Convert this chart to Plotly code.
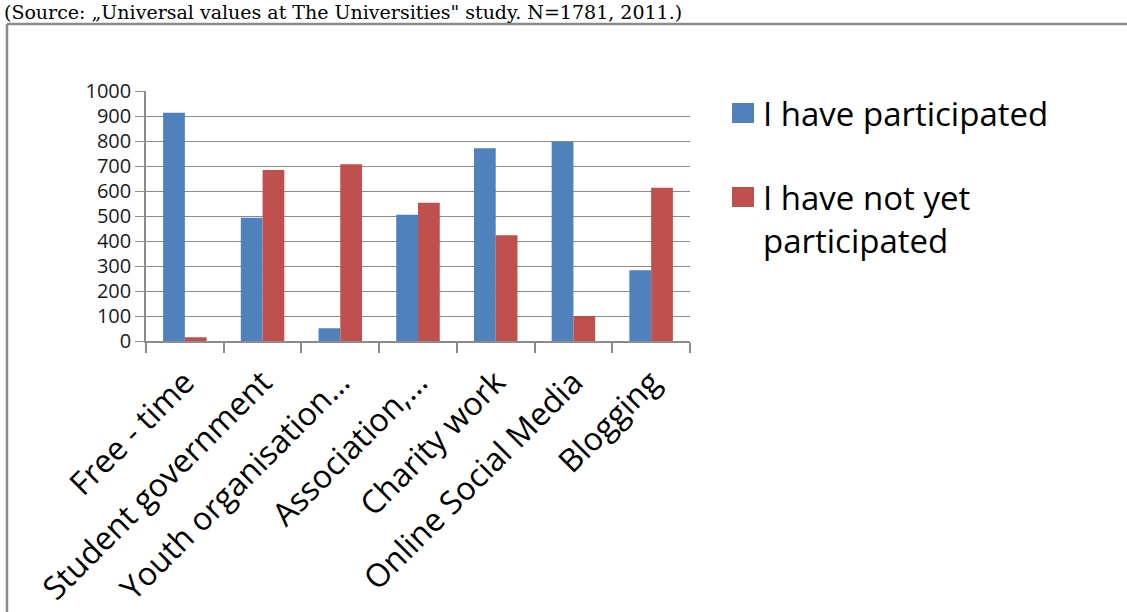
import plotly.graph_objects as go

categories = ["Free - time", "Student government", "Youth organisation…", "Association,…",
              "Charity work", "Online Social Media", "Blogging"]
participated = [913, 493, 51, 505, 771, 797, 283]
not_participated = [15, 684, 707, 553, 423, 100, 613]
series_names = ["I have participated", "I have not yet<br>participated"]
y_ticks = [0, 100, 200, 300, 400, 500, 600, 700, 800, 900, 1000]
source_text = "(Source: „Universal values at The Universities\" study. N=1781, 2011.)"

BLUE = "#4F81BD"
RED = "#C0504D"
GRID = "#8C8C8C"
FONT = "Open Sans"
colors = [BLUE, RED]

fig = go.Figure()
fig.add_trace(go.Bar(x=categories, y=participated, name=series_names[0],
                     marker=dict(color=BLUE, line=dict(width=0))))
fig.add_trace(go.Bar(x=categories, y=not_participated, name=series_names[1],
                     marker=dict(color=RED, line=dict(width=0))))

L, R, T, B = 146, 1127 - 690, 91, 612 - 341
W, H = 1127, 612
pw, ph = W - L - R, H - T - B


def px_x(px):
    return (px - L) / pw


def px_y(py):
    return (H - B - py) / ph


fig.update_layout(
    width=W, height=H,
    margin=dict(l=L, r=R, t=T, b=B, autoexpand=False),
    paper_bgcolor="white", plot_bgcolor="white",
    barmode="group", bargap=0.44, bargroupgap=0.0,
    font=dict(family=FONT, color="black"),
    showlegend=False,
    xaxis=dict(type="category", tickangle=-45, tickson="boundaries",
               ticks="outside", ticklen=10, tickcolor=GRID, tickwidth=1.5,
               showline=True, linecolor=GRID, linewidth=1.5, ticklabelstandoff=8,
               showgrid=False, tickfont=dict(family=FONT, size=32, color="black"),
               fixedrange=True),
    yaxis=dict(range=[0, 1000], tickvals=y_ticks, ticks="outside", ticklen=9,
               tickcolor=GRID, tickwidth=1, showline=True, linecolor=GRID, linewidth=1.5,
               showgrid=True, gridcolor=GRID, gridwidth=1, zeroline=False,
               tickfont=dict(family=FONT, size=20, color="#1a1a1a"), fixedrange=True),
)

# frame border of the embedded chart
fig.add_shape(type="line", xref="paper", yref="paper",
              x0=px_x(7), x1=px_x(1140), y0=px_y(24), y1=px_y(24),
              line=dict(color="#8A8A8A", width=2.5))
fig.add_shape(type="line", xref="paper", yref="paper",
              x0=px_x(7), x1=px_x(7), y0=px_y(24), y1=px_y(640),
              line=dict(color="#8A8A8A", width=2.5))

# source line at the top
fig.add_annotation(text=source_text, xref="paper", yref="paper",
                   x=px_x(2), y=px_y(-1), xanchor="left", yanchor="top",
                   showarrow=False, font=dict(family="DejaVu Serif", size=19, color="black"))

# legend drawn by hand (large square swatches, symbol aligned with first text line)
legend_rows = [113, 197]
for name, col, yc in zip(series_names, colors, legend_rows):
    fig.add_shape(type="rect", xref="paper", yref="paper",
                  x0=px_x(732), x1=px_x(754), y0=px_y(yc - 10), y1=px_y(yc + 10),
                  fillcolor=col, line=dict(width=0))
    fig.add_annotation(text=name, xref="paper", yref="paper",
                       x=px_x(761), y=px_y(yc - 24), xanchor="left", yanchor="top",
                       align="left", showarrow=False,
                       font=dict(family=FONT, size=33, color="black"))

fig.write_html("out.html", post_script="document.body.style.margin='0';",
               config={"displayModeBar": False})
